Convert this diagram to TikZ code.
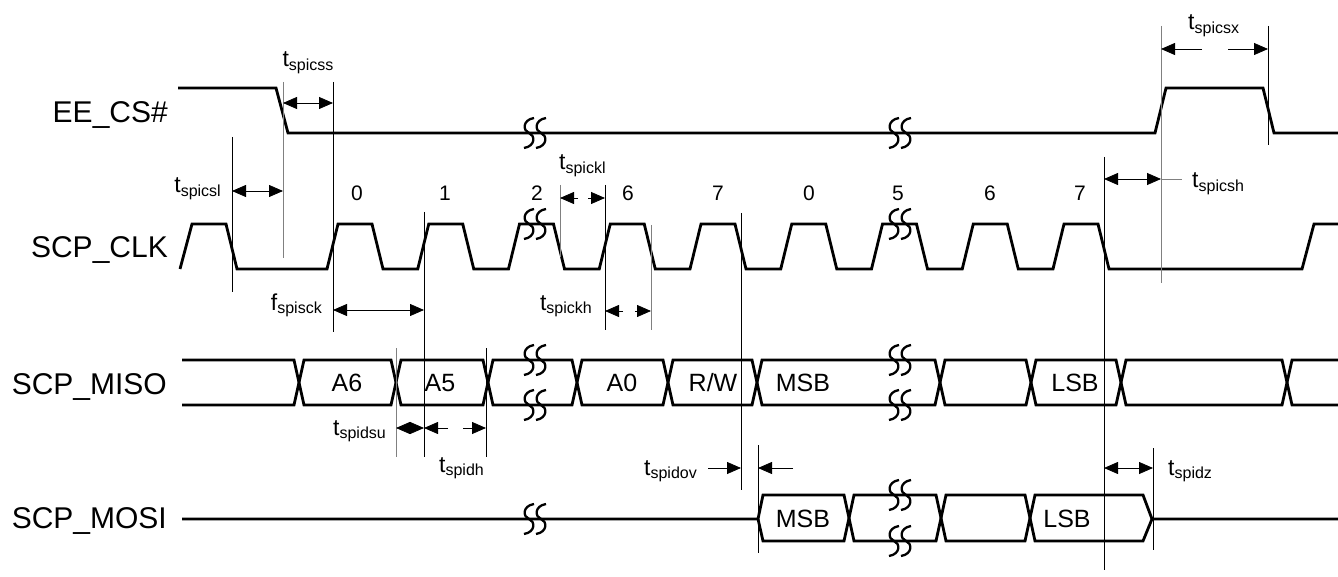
\documentclass[tikz,border=0pt]{standalone}
\usepackage{fontspec}
\setmainfont{Liberation Sans}
\usetikzlibrary{arrows.meta}
\newcommand\tlab[2]{{\fontsize{23}{23}\selectfont #1}\raisebox{-3.5pt}{\fontsize{16}{16}\selectfont #2}}
\begin{document}
\begin{tikzpicture}[x=1pt,y=-1pt,
  sig/.style={line width=2.8pt},
  thinln/.style={line width=0.9pt},
  grayln/.style={line width=0.9pt, draw=black!50},
  brkst/.style={line width=2.3pt},
  tip/.tip={Triangle[length=14pt,width=12pt]},
  dimarr/.style={line width=0.8pt, tip-tip},
  onearr/.style={line width=0.8pt, -tip},
  txt/.style={inner sep=0pt},
  signame/.style={txt, anchor=base east, font=\fontsize{30}{30}\selectfont},
  bitnum/.style={txt, anchor=base, font=\fontsize{21}{21}\selectfont},
  buslab/.style={txt, anchor=base, font=\fontsize{25}{25}\selectfont},
  pics/brkmark/.style={code={\draw[brkst] (5,-15) .. controls (-7,-13) and (-6,-2) .. (0,0) .. controls (6,2) and (7,13) .. (-5,15);}}
]
\useasboundingbox (0,0) rectangle (1338,577);

% signal names
\node[signame] (ncs) at (168,123) {EE\_CS\#};
\node[signame] (nclk) at (168,258) {SCP\_CLK};
\node[signame] (nmiso) at (167,394) {SCP\_MISO};
\node[signame] (nmosi) at (167,528) {SCP\_MOSI};

% EE_CS#
\draw[sig] (178,88) -- (276,88) -- (288,133) -- (1155,133) -- (1166,88) -- (1263,88) -- (1274,133) -- (1338,133);

% SCP_CLK
\draw[sig] (180,269) -- (192,224) -- (226,224) -- (237,269)
  \foreach \k in {0,...,8}{ -- ({327+90.75*\k},269) -- ({338+90.75*\k},224) -- ({372+90.75*\k},224) -- ({383+90.75*\k},269) }
  -- (1302,269) -- (1314,224) -- (1338,224);

% SCP_MISO bus
\draw[sig] (182,360) -- (294,360) -- (304,405) -- (391,405) -- (401,360) -- (483,360) -- (493,405) -- (572,405) -- (582,360) -- (663,360) -- (673,405) -- (752,405) -- (762,360) -- (935,360) -- (945,405) -- (1026,405) -- (1036,360) -- (1116,360) -- (1126,405) -- (1282,405) -- (1292,360) -- (1338,360);
\draw[sig] (182,405) -- (294,405) -- (304,360) -- (391,360) -- (401,405) -- (483,405) -- (493,360) -- (572,360) -- (582,405) -- (663,405) -- (673,360) -- (752,360) -- (762,405) -- (935,405) -- (945,360) -- (1026,360) -- (1036,405) -- (1116,405) -- (1126,360) -- (1282,360) -- (1292,405) -- (1338,405);

% SCP_MOSI
\draw[sig] (182,519) -- (758,519) -- (763,495) -- (844,495) -- (854,541) -- (936,541) -- (946,495) -- (1025,495) -- (1035,541) -- (1143,541) -- (1152,519) -- (1338,519);
\draw[sig] (758,519) -- (763,541) -- (844,541) -- (854,495) -- (936,495) -- (946,541) -- (1025,541) -- (1035,495) -- (1143,495) -- (1152,519);

% break marks
\foreach \c in {535,900}{
  \foreach \yy in {133,224,360,405}{
    \pic at (\c-6,\yy) {brkmark};
    \pic at (\c+6,\yy) {brkmark};
  }
}
\pic at (529,519) {brkmark}; \pic at (541,519) {brkmark};
\pic at (894,495) {brkmark}; \pic at (906,495) {brkmark};
\pic at (894,541) {brkmark}; \pic at (906,541) {brkmark};

% bus labels
\node[buslab] (la6) at (347,391) {A6};
\node[buslab] (la5) at (440,391) {A5};
\node[buslab] (la0) at (622,391) {A0};
\node[buslab] (lrw) at (713,391) {R/W};
\node[buslab] (lmsb) at (803,391) {MSB};
\node[buslab] (llsb) at (1075,391) {LSB};
\node[buslab] (lmsb2) at (803,527) {MSB};
\node[buslab] (llsb2) at (1067,527) {LSB};

% bit numbers
\foreach \xx/\tt [count=\i] in {357/0,445/1,537/2,628/6,718/7,809/0,898/5,990/6,1080/7}{
  \node[bitnum] (b\i) at (\xx,201) {\tt};
}

% timing reference lines
\draw[thinln] (232,137) -- (232,292);
\draw[grayln] (283,82) -- (283,258);
\draw[thinln] (333,82) -- (333,332);
\draw[thinln] (424,212) -- (424,457);
\draw[grayln] (396,348) -- (396,457);
\draw[thinln] (486,348) -- (486,457);
\draw[grayln] (560,185) -- (560,257);
\draw[thinln] (605,185) -- (605,330);
\draw[grayln] (651,225) -- (651,330);
\draw[thinln] (741,213) -- (741,490);
\draw[thinln] (758,445) -- (758,553);
\draw[thinln] (1104,157) -- (1104,570);
\draw[grayln] (1161,26) -- (1161,283);
\draw[thinln] (1268,26) -- (1268,145);
\draw[thinln] (1153,448) -- (1153,550);

% dimension arrows
\draw[dimarr] (232,191) -- (283,191);
\draw[dimarr] (283,103) -- (333,103);
\draw[dimarr] (333,310) -- (424,310);
\draw[dimarr] (396,428) -- (424,428);
\draw[onearr] (448,428) -- (424,428);
\draw[onearr] (463,428) -- (486,428);
\draw[onearr] (578,198) -- (560,198);
\draw[onearr] (588,198) -- (605,198);
\draw[onearr] (623,311) -- (605,311);
\draw[onearr] (635,311) -- (651,311);
\draw[onearr] (708,468) -- (741,468);
\draw[onearr] (793,468) -- (758,468);
\draw[dimarr] (1104,179) -- (1161,179);
\draw[grayln] (1161,179) -- (1182,179);
\draw[onearr] (1202,49) -- (1161,49);
\draw[onearr] (1228,49) -- (1268,49);
\draw[dimarr] (1104,468) -- (1153,468);

% timing labels
\node[txt, anchor=base] (tcss) at (308,67) {\tlab{t}{spicss}};
\node[txt, anchor=base east] (tcsl) at (221,193) {\tlab{t}{spicsl}};
\node[txt, anchor=base west] (tckl) at (559,170) {\tlab{t}{spickl}};
\node[txt, anchor=base east] (tckh) at (592,310) {\tlab{t}{spickh}};
\node[txt, anchor=base east] (fsck) at (322,310) {\tlab{f}{spisck}};
\node[txt, anchor=base east] (tdsu) at (386,435) {\tlab{t}{spidsu}};
\node[txt, anchor=base west] (tdh) at (439,472) {\tlab{t}{spidh}};
\node[txt, anchor=base east] (tdov) at (697,475) {\tlab{t}{spidov}};
\node[txt, anchor=base west] (tdz) at (1168,475) {\tlab{t}{spidz}};
\node[txt, anchor=base west] (tcsh) at (1192,188) {\tlab{t}{spicsh}};
\node[txt, anchor=base west] (tcsx) at (1188,30) {\tlab{t}{spicsx}};
\end{tikzpicture}
\end{document}
